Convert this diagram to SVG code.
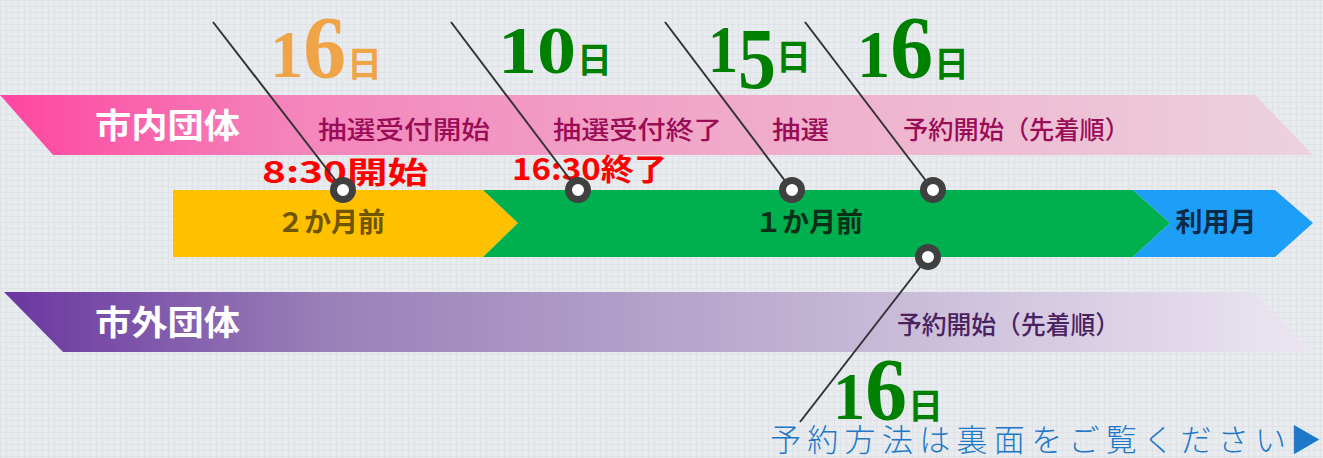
<svg xmlns="http://www.w3.org/2000/svg" width="1323" height="458" viewBox="0 0 1323 458">
<defs>
<linearGradient id="gPink" x1="0" y1="0" x2="1313" y2="0" gradientUnits="userSpaceOnUse">
<stop offset="0" stop-color="#ff45a0"/>
<stop offset="0.22" stop-color="#f484bb"/>
<stop offset="0.55" stop-color="#f0a9c9"/>
<stop offset="1" stop-color="#ecd2de"/>
</linearGradient>
<linearGradient id="gPurple" x1="0" y1="0" x2="1313" y2="0" gradientUnits="userSpaceOnUse">
<stop offset="0" stop-color="#6a35a0"/>
<stop offset="0.25" stop-color="#9a80b8"/>
<stop offset="0.6" stop-color="#bfb0d2"/>
<stop offset="1" stop-color="#ece6f1"/>
</linearGradient>
<pattern id="tex" width="6" height="6" patternUnits="userSpaceOnUse">
<rect width="6" height="6" fill="#e9ecef"/>
<path d="M0 0.5H6M0.5 0V6" stroke="#dfe3e7" stroke-width="1"/>
</pattern>
<style>
.hdr{font-family:"Noto Sans CJK JP","Noto Sans",sans-serif;font-weight:700;font-size:34px;fill:#ffffff}
.lbl{font-family:"Noto Sans CJK JP","Noto Sans",sans-serif;font-weight:500;font-size:25px;fill:#9a0c56}
.plbl{font-family:"Noto Sans CJK JP","Noto Sans",sans-serif;font-weight:500;font-size:25px;fill:#4a2260}
.bar{font-family:"Noto Sans CJK JP","Noto Sans",sans-serif;font-weight:700;font-size:27px}
.num{font-family:"Liberation Serif",serif;font-weight:700;font-size:68px}
.day{font-family:"Noto Sans CJK JP","Noto Sans",sans-serif;font-weight:700;font-size:35px}
.org{fill:#f0a448}
.grn{fill:#008000}
.red{font-family:"Noto Sans CJK JP","Noto Sans",sans-serif;font-weight:700;font-size:30px;fill:#ff0000}
.ln{stroke:#333333;stroke-width:2;fill:none}
.dot{fill:#ffffff;stroke:#404040;stroke-width:7}
.note{font-family:"Noto Sans CJK JP","Noto Sans",sans-serif;font-weight:300;font-size:31px;fill:#1e78c8}
</style>
</defs>
<rect width="1323" height="458" fill="url(#tex)"/>

<g id="band-shinai">
<polygon points="0,95 1255,95 1313,155 53,155" fill="url(#gPink)"/>
<text class="hdr" x="95" y="138" textLength="145" lengthAdjust="spacingAndGlyphs">市内団体</text>
</g>

<g id="band-shigai">
<polygon points="4,292 1253,292 1312,352 63,352" fill="url(#gPurple)"/>
<text class="hdr" x="95" y="335" textLength="145" lengthAdjust="spacingAndGlyphs">市外団体</text>
<text class="plbl" x="897" y="334" textLength="223" lengthAdjust="spacingAndGlyphs">予約開始（先着順）</text>
</g>

<g id="bar-2months">
<polygon points="173,190 483,190 518,223 483,257 173,257" fill="#ffc000"/>
<text class="bar" x="331" y="232" text-anchor="middle" fill="#6e5500">２か月前</text>
</g>
<g id="bar-1month">
<polygon points="483,190 1133,190 1170,223 1133,257 483,257 518,223" fill="#00b04f"/>
<text class="bar" x="809" y="232" text-anchor="middle" fill="#0b2e18">１か月前</text>
</g>
<g id="bar-usemonth">
<polygon points="1133,190 1275,190 1313,223 1275,257 1133,257 1170,223" fill="#1e9ff7"/>
<text class="bar" x="1216" y="232" text-anchor="middle" fill="#0b2a48">利用月</text>
</g>

<g id="step-lottery-open">
<text class="lbl" x="318" y="139" textLength="172" lengthAdjust="spacingAndGlyphs">抽選受付開始</text>
<text class="num org" x="270" y="77" textLength="76" lengthAdjust="spacingAndGlyphs">1<tspan font-size="88">6</tspan></text>
<text class="day org" x="347" y="77">日</text>
<text class="red" x="262" y="183" textLength="166" lengthAdjust="spacingAndGlyphs">8:30開始</text>
</g>
<g id="step-lottery-close">
<text class="lbl" x="553" y="139" textLength="169" lengthAdjust="spacingAndGlyphs">抽選受付終了</text>
<text class="num grn" x="498" y="73" textLength="78" lengthAdjust="spacingAndGlyphs">10</text>
<text class="day grn" x="577" y="73">日</text>
<text class="red" x="512" y="180" textLength="155" lengthAdjust="spacingAndGlyphs">16:30終了</text>
</g>
<g id="step-lottery">
<text class="lbl" x="772" y="139" textLength="57" lengthAdjust="spacingAndGlyphs">抽選</text>
<text class="num grn" x="708" y="72" textLength="68" lengthAdjust="spacingAndGlyphs">1<tspan font-size="86" dy="16">5</tspan></text>
<text class="day grn" x="776" y="70">日</text>
</g>
<g id="step-reserve-shinai">
<text class="lbl" x="903" y="139" textLength="227" lengthAdjust="spacingAndGlyphs">予約開始（先着順）</text>
<text class="num grn" x="857" y="77" textLength="76" lengthAdjust="spacingAndGlyphs">1<tspan font-size="88">6</tspan></text>
<text class="day grn" x="934" y="77">日</text>
</g>
<g id="step-reserve-shigai">
<text class="num grn" x="833" y="419" textLength="74" lengthAdjust="spacingAndGlyphs">1<tspan font-size="88">6</tspan></text>
<text class="day grn" x="908" y="419">日</text>
</g>

<g id="connectors">
<line class="ln" x1="213" y1="22" x2="343" y2="190"/>
<line class="ln" x1="451" y1="22" x2="578" y2="190"/>
<line class="ln" x1="665" y1="22" x2="792" y2="190"/>
<line class="ln" x1="805" y1="22" x2="933" y2="190"/>
<line class="ln" x1="928" y1="257" x2="800" y2="422"/>
<circle class="dot" cx="343" cy="190" r="9.5"/>
<circle class="dot" cx="578" cy="190" r="9.5"/>
<circle class="dot" cx="792" cy="190" r="9.5"/>
<circle class="dot" cx="933" cy="190" r="9.5"/>
<circle class="dot" cx="928" cy="257" r="9.5"/>
</g>

<g id="footer-note">
<text class="note" x="770" y="451" textLength="516" lengthAdjust="spacing">予約方法は裏面をご覧ください</text>
<text class="note" x="1290" y="451" fill="#0a6fc2">▶</text>
</g>
</svg>
